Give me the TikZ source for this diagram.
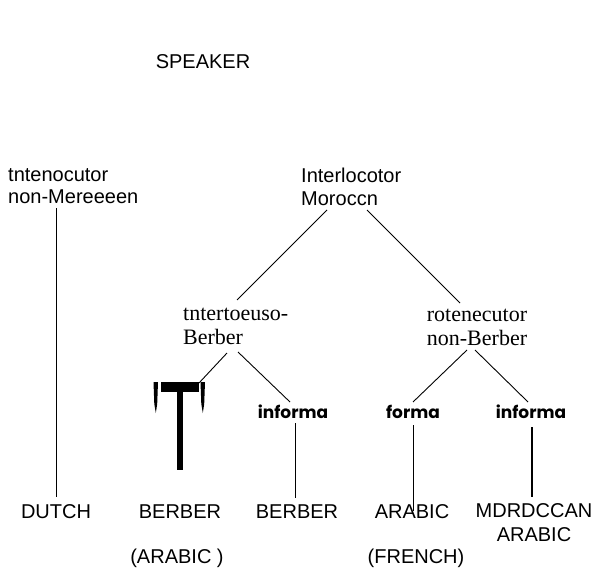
\documentclass[tikz,border=0pt]{standalone}
\usepackage{fontspec}
\setmainfont{Liberation Serif}
\newfontfamily\sanslab{Liberation Sans}
\newfontfamily\formlab{Poppins}
\usepackage{tikz}

\begin{document}
\begin{tikzpicture}[x=1pt, y=-1pt,
    slab/.style={inner sep=0pt, font=\sanslab\fontsize{20}{22.5}\selectfont},
    rlab/.style={inner sep=0pt, font=\fontsize{22}{24}\selectfont},
    flab/.style={inner sep=0pt, anchor=base, font=\formlab\bfseries\fontsize{17}{20}\selectfont},
    blab/.style={inner sep=0pt, anchor=base, font=\sanslab\fontsize{20}{24}\selectfont},
    branch/.style={line width=0.9pt}]
    \useasboundingbox (0,0) rectangle (596,567);

    \node[slab, anchor=base] (speaker) at (203, 69) {SPEAKER};
    \node[slab, anchor=north west, align=left] (nonmor) at (8, 168) {tntenocutor\\non-Mereeeen};
    \node[slab, anchor=north west, align=left] (mor) at (301, 168) {Interlocotor\\Moroccn};
    \node[rlab, anchor=north west, align=left] (ber) at (183, 308) {tntertoeuso-\\Berber};
    \node[rlab, anchor=north, align=center] (nonber) at (477, 309) {rotenecutor\\non-Berber};

    \node[flab] (binf) at (293, 418) {informa};
    \node[flab] (nform) at (413, 418) {forma};
    \node[flab] (ninf) at (531, 418) {informa};

    \node[blab] (dutch) at (56, 518) {DUTCH};
    \node[blab] (berber1) at (180, 518) {BERBER};
    \node[blab] (berber2) at (297, 518) {BERBER};
    \node[blab] (arabic) at (412, 518) {ARABIC};
    \node[blab, anchor=north, align=center] (mdr) at (534, 503.7) {MDRDCCAN\\ARABIC};
    \node[blab] (parar) at (177, 563) {(ARABIC )};
    \node[blab] (parfr) at (416, 563) {(FRENCH)};

    % the blotted T under Berber
    \fill (161,382) rectangle (199,392);
    \fill (177,382) rectangle (183,470);
    \fill (153.5,382) -- (158,382) -- (157.2,404) -- (155.8,413) -- (154.3,404) -- cycle;
    \fill (200.5,382) -- (205,382) -- (204.2,404) -- (202.8,413) -- (201.3,404) -- cycle;

    \coordinate (morL) at (327, 210);
    \coordinate (morR) at (367, 210);
    \coordinate (berUp) at (237, 300);
    \coordinate (nonberUp) at (460, 303);
    \coordinate (berL) at (227, 353);
    \coordinate (berR) at (238, 352);
    \coordinate (tTop) at (199, 383);
    \coordinate (binfUp) at (290, 402);
    \coordinate (nonberL) at (467, 350);
    \coordinate (nonberR) at (475, 350);
    \coordinate (nformUp) at (413, 402);
    \coordinate (ninfUp) at (528, 402);

    \draw[branch] (morL) edge (berUp) ;
    \draw[branch] (morR) edge (nonberUp) ;
    \draw[branch] (berL) edge (tTop) ;
    \draw[branch] (berR) edge (binfUp) ;
    \draw[branch] (nonberL) edge (nformUp) ;
    \draw[branch] (nonberR) edge (ninfUp) ;

    \draw[line width=0.7pt] (nonmor.south -| dutch) ++(0,4) coordinate (dutchUp) (dutchUp) edge (dutch.north |- 0,497) ;
    \draw[line width=0.8pt] ([yshift=-5pt]binf.south -| 295,0) edge (295,498) ;
    \draw[line width=1pt] ([yshift=-7pt]nform.south) edge ([yshift=-7pt]nform.south |- arabic.north) ;
    \draw[line width=1.5pt] ([yshift=-9pt]ninf.south -| 532,0) edge (532,497) ;
\end{tikzpicture}
\end{document}
